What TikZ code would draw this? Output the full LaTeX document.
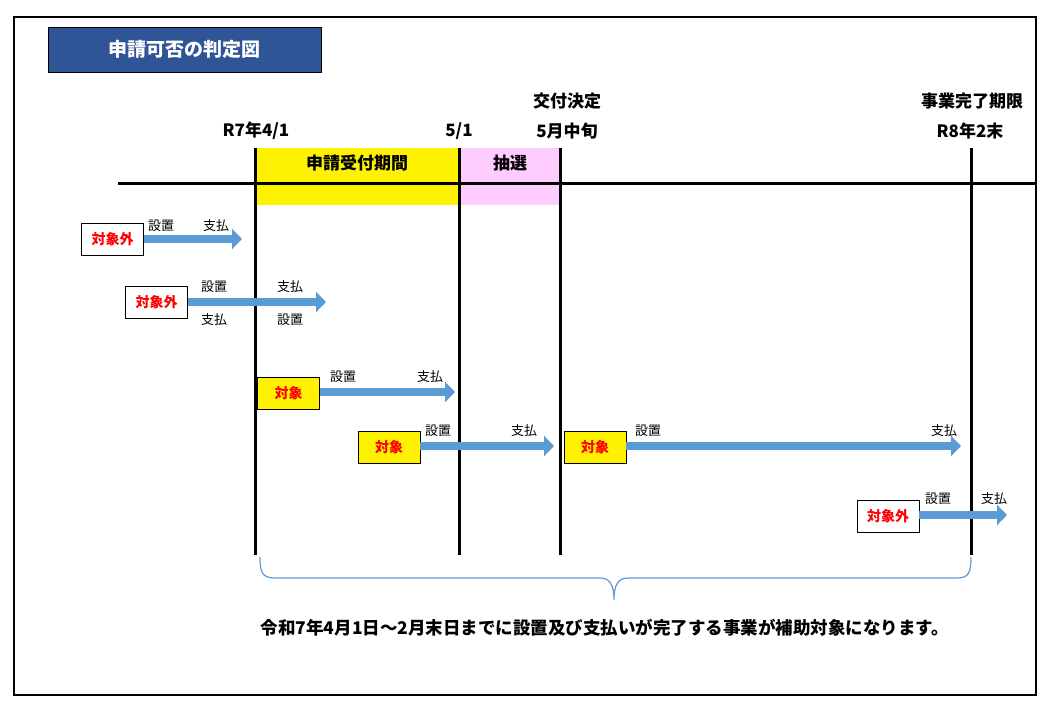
\documentclass[tikz,border=0pt]{standalone}
\usepackage{fontspec}
\setmainfont{Noto Sans CJK JP}
\usetikzlibrary{arrows.meta}
\definecolor{tblue}{HTML}{2F5597}
\definecolor{abl}{HTML}{5B9BD5}
\definecolor{pk}{HTML}{FFCCFF}
\tikzset{
 lbl/.style={font=\bfseries\fontsize{17}{19}\selectfont},
 sm/.style={font=\fontsize{13}{15}\selectfont},
 nobox/.style={draw=black,fill=white,text=red,font=\bfseries\fontsize{14}{16}\selectfont,minimum width=62pt,minimum height=32pt,inner sep=0pt},
 okbox/.style={nobox,fill=yellow},
 barr/.style={draw=abl,line width=8pt,-{Triangle[length=10pt,width=20pt]}},
 vline/.style={line width=3pt}
}
\begin{document}
\begin{tikzpicture}[x=1pt,y=-1pt]
\useasboundingbox (0,0) rectangle (1050,713);
\draw[line width=2pt] (14,17) rectangle (1036,695);
\node[draw=black,fill=tblue,text=white,font=\bfseries\fontsize{19}{21}\selectfont,minimum width=273pt,minimum height=45pt] (title) at (184.5,49.5) {申請可否の判定図};
\fill[yellow] (255,148) rectangle (459,205);
\fill[pk] (459,148) rectangle (560,205);
\node[lbl] (p1) at (357,163) {申請受付期間};
\node[lbl] (p2) at (510,163) {抽選};
\draw[line width=3pt] (118,183) -- (1036,183);
\coordinate (v1t) at (255,148); \coordinate (v1b) at (255,555);
\coordinate (v2t) at (459,148); \coordinate (v2b) at (459,555);
\coordinate (v3t) at (560,148); \coordinate (v3b) at (560,555);
\coordinate (v4t) at (971,148); \coordinate (v4b) at (971,555);
\draw[vline] (v1t)--(v1b); \draw[vline] (v2t)--(v2b); \draw[vline] (v3t)--(v3b); \draw[vline] (v4t)--(v4b);
\node[lbl] (d1) at (256,131) {R7年4/1};
\node[lbl] (d2) at (459,131) {5/1};
\node[lbl] (d3a) at (567,101) {交付決定};
\node[lbl] (d3) at (567,131) {5月中旬};
\node[lbl] (d4a) at (972,101) {事業完了期限};
\node[lbl] (d4) at (970,131) {R8年2末};
% row1
\node[nobox] (b1) at (112.5,239.5) {対象外};
\coordinate (e1) at (242,239);
\draw[barr] (b1.east|-e1) -- (e1);
\node[sm] at (161,226) {設置}; \node[sm] at (216,226) {支払};
% row2
\node[nobox] (b2) at (156.5,302) {対象外};
\coordinate (e2) at (326,302);
\draw[barr] (b2.east|-e2) -- (e2);
\node[sm] at (214,287) {設置}; \node[sm] at (290,287) {支払};
\node[sm] at (214,320) {支払}; \node[sm] at (290,320) {設置};
% row3
\node[okbox] (b3) at (288.5,393.5) {対象};
\coordinate (e3) at (455,392);
\draw[barr] (b3.east|-e3) -- (e3);
\node[sm] at (343,377) {設置}; \node[sm] at (430,377) {支払};
% row4
\node[okbox] (b4) at (389,447.5) {対象};
\coordinate (e4) at (554,446);
\draw[barr] (b4.east|-e4) -- (e4);
\node[sm] at (438,431) {設置}; \node[sm] at (524,431) {支払};
\node[okbox] (b5) at (595,447.5) {対象};
\coordinate (e5) at (961,446);
\draw[barr] (b5.east|-e5) -- (e5);
\node[sm] at (648,431) {設置}; \node[sm] at (944,431) {支払};
% row5
\node[nobox] (b6) at (888,516.5) {対象外};
\coordinate (e6) at (1007,515);
\draw[barr] (b6.east|-e6) -- (e6);
\node[sm] at (938,499) {設置}; \node[sm] at (994,499) {支払};
% brace
\draw[abl,line width=1.2pt] (260,557) .. controls (260,572) and (262,578) .. (275,578) -- (600,578) .. controls (610,578) and (614,585) .. (614,600) .. controls (614,585) and (618,578) .. (628,578) -- (957,578) .. controls (969,578) and (971,572) .. (971,557);
\node[font=\bfseries\fontsize{17.5}{20}\selectfont] (note) at (605,628) {令和7年4月1日～2月末日までに設置及び支払いが完了する事業が補助対象になります。};
\end{tikzpicture}
\end{document}
